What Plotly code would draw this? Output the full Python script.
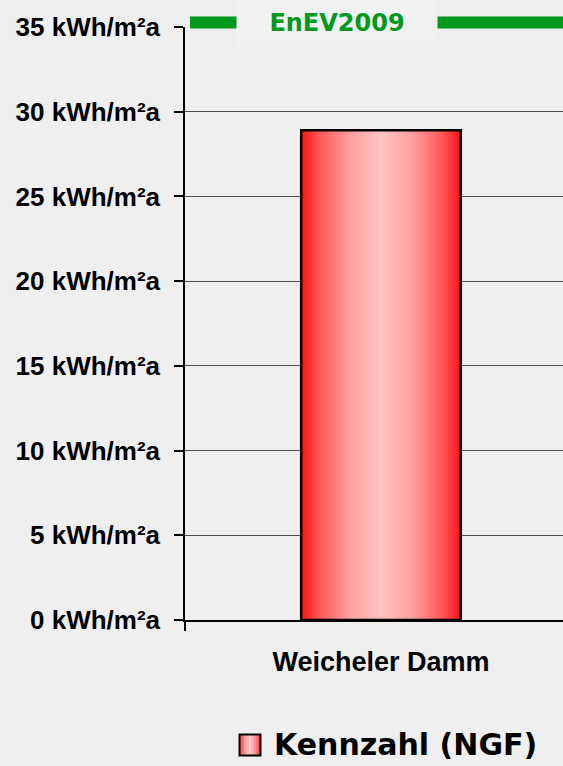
import plotly.graph_objects as go

# ---- data ----
categories = ["Weicheler Damm"]
kennzahl_values = [28.9]
series_name = "Kennzahl (NGF)"
enev_label = "EnEV2009"
enev_value = 35
y_tick_values = [0, 5, 10, 15, 20, 25, 30, 35]
y_tick_labels = [f"{v} kWh/m²a" for v in y_tick_values]

# ---- styles ----
BG = "#efefef"
GREEN = "#00991c"
GRAD = [[0, "#ff1212"], [0.12, "#ff5a5a"], [0.3, "#ff9e9e"],
        [0.5, "#ffc4c4"], [0.7, "#ff9e9e"], [0.88, "#ff5a5a"], [1, "#ff1212"]]
BAR_W = 0.407
X_RANGE = [-0.5, 0.4643]

fig = go.Figure()

xs = list(range(len(categories)))
fig.add_trace(go.Bar(
    x=xs, y=kennzahl_values, width=BAR_W, name=series_name,
    marker=dict(color="#ff8a8a", line=dict(color="black", width=2.5)),
    showlegend=False, hoverinfo="skip",
))

# gradient overlay for each bar
for xi, v in zip(xs, kennzahl_values):
    fig.add_trace(go.Scatter(
        x=[xi - BAR_W / 2, xi + BAR_W / 2, xi + BAR_W / 2, xi - BAR_W / 2, xi - BAR_W / 2],
        y=[0, 0, v, v, 0],
        mode="lines", fill="toself",
        fillgradient=dict(type="horizontal", colorscale=GRAD),
        line=dict(color="black", width=2.5),
        showlegend=False, hoverinfo="skip",
    ))

fig.update_layout(
    width=563, height=766,
    margin=dict(l=185, r=0, t=27, b=146),
    paper_bgcolor=BG, plot_bgcolor=BG,
    showlegend=False,
    xaxis=dict(
        range=X_RANGE, tickvals=xs, ticktext=categories,
        ticks="", showgrid=False, zeroline=False,
        showline=True, linecolor="black", linewidth=1.5,
        tickfont=dict(family="Liberation Sans", size=27, color="black", weight="bold"),
        ticklabelstandoff=17,
        minor=dict(tickmode="array", tickvals=[X_RANGE[0]], ticks="outside",
                   ticklen=9, tickcolor="black", tickwidth=1.5, showgrid=False),
    ),
    yaxis=dict(
        range=[0, enev_value], tickvals=y_tick_values, ticktext=y_tick_labels,
        showgrid=True, gridcolor="#4a4a4a", gridwidth=1,
        zeroline=False, showline=True, linecolor="black", linewidth=1.5,
        ticks="outside", ticklen=9, tickcolor="black", tickwidth=1.5,
        tickfont=dict(family="Liberation Sans", size=26, color="black", weight="bold"),
        ticklabelstandoff=9,
    ),
)

# EnEV reference line (just above the top of the plot area)
fig.add_shape(type="line", xref="paper", yref="paper",
              x0=0.0132, x1=1.0, y0=enev_value / 35 + 0.0074, y1=enev_value / 35 + 0.0074,
              line=dict(color=GREEN, width=12))
fig.add_annotation(text=enev_label, xref="paper", yref="paper",
                   x=0.4008, y=1.0071, xanchor="center", yanchor="middle",
                   showarrow=False, bgcolor="#f1f1f1", width=198, height=45,
                   font=dict(family="DejaVu Sans", size=24, color=GREEN, weight="bold"))

# custom legend
lx0, lx1 = 0.1442, 0.1997
ly0, ly1 = -0.2284, -0.1930
n_str = 9
def interp(t):
    a = (255, 18, 18); b = (255, 196, 196)
    s = (1 - abs(2 * t - 1)) ** 0.6
    return "rgb(%d,%d,%d)" % tuple(round(a[i] + (b[i] - a[i]) * s) for i in range(3))
for i in range(n_str):
    t = (i + 0.5) / n_str
    fig.add_shape(type="rect", xref="paper", yref="paper",
                  x0=lx0 + (lx1 - lx0) * i / n_str, x1=lx0 + (lx1 - lx0) * (i + 1) / n_str,
                  y0=ly0, y1=ly1, fillcolor=interp(t), line=dict(width=0))
fig.add_shape(type="rect", xref="paper", yref="paper",
              x0=lx0, x1=lx1, y0=ly0, y1=ly1, line=dict(color="black", width=2))
fig.add_annotation(text=series_name, xref="paper", yref="paper",
                   x=0.2300, y=-0.2107, xanchor="left", yanchor="middle",
                   showarrow=False,
                   font=dict(family="DejaVu Sans", size=30, color="black", weight="bold"))

fig.write_html("out.html", config={"displayModeBar": False},
               post_script="document.body.style.margin='0';")
